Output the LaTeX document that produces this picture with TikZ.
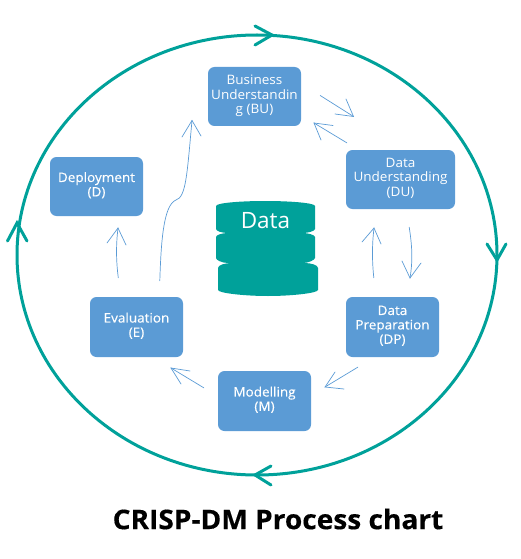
\documentclass[tikz,border=0pt]{standalone}
\usepackage{fontspec}
\setmainfont{Open Sans}
\newfontfamily\lightface[FakeStretch=1.04]{Open Sans}
\newfontfamily\heavyface[FakeBold=0.25,FakeStretch=1.04]{Open Sans}
\newfontfamily\titleface[FakeBold=0.4,FakeStretch=1.04,BoldFont={Open Sans Bold}]{Open Sans Bold}
\definecolor{tealc}{HTML}{00A19A}
\definecolor{bluec}{HTML}{5B9BD5}
\tikzset{
  phase/.style={fill=bluec,rounded corners=6.5pt,text=white,inner sep=0pt,align=center,text depth=4.5pt,font=\fontsize{13}{14.4}\lightface},
  phaseheavy/.style={phase,font=\fontsize{13}{14.4}\heavyface},
  link/.style={draw=bluec,line width=0.7pt,line cap=round},
  ring/.style={draw=tealc,line width=3pt},
  ringhead/.style={draw=tealc,line width=3pt,line cap=round},
  disk/.style={fill=tealc,draw=none}
}
\begin{document}
\begin{tikzpicture}[x=1pt,y=-1pt]
\useasboundingbox (0,0) rectangle (521,559);
% outer cycle
\draw[ring] (257,255) ellipse [x radius=240,y radius=220];
\draw[ringhead] (255,26) -- (272,35) -- (255,45);
\draw[ringhead] (487,244) -- (497,260) -- (506,244);
\draw[ringhead] (271,466) -- (255,475) -- (271,485);
\draw[ringhead] (7.5,241) -- (17,223) -- (27,241);
% phases
\node[phase,minimum width=93pt,minimum height=59pt] (bu) at (254.5,96.5) {Business\\Understandin\\g (BU)};
\node[phase,minimum width=109pt,minimum height=59pt] (du) at (400.5,179.5) {Data\\Understanding\\(DU)};
\node[phaseheavy,minimum width=93pt,minimum height=60pt] (dp) at (392.5,327) {Data\\Preparation\\(DP)};
\node[phaseheavy,minimum width=93pt,minimum height=60pt] (mo) at (264.5,401) {Modelling\\(M)};
\node[phaseheavy,minimum width=93pt,minimum height=60pt] (ev) at (136.5,327) {Evaluation\\(E)};
\node[phaseheavy,minimum width=93pt,minimum height=59pt] (de) at (96.5,186.5) {Deployment\\(D)};
% data store
\fill[disk] (216,206) .. controls (216,203) and (240,201) .. (265,201) .. controls (291,201) and (315,203) .. (315,206)
  -- (315,229) .. controls (315,231) and (308,233) .. (303,233) -- (228,233) .. controls (222,233) and (216,231) .. (216,229) -- cycle;
\fill[disk] (216,237) .. controls (216,235) and (222,233) .. (228,233) -- (303,233) .. controls (308,233) and (315,235) .. (315,237)
  -- (315,258) .. controls (315,260) and (308,263) .. (303,263) -- (228,263) .. controls (222,263) and (216,260) .. (216,258) -- cycle;
\fill[disk] (218,268) .. controls (218,265) and (225,263) .. (232,263) -- (304,263) .. controls (311,263) and (318,265) .. (318,268)
  -- (318,290) .. controls (318,293) and (292,296) .. (268,296) .. controls (244,296) and (218,293) .. (218,290) -- cycle;
\node[text=white,font=\fontsize{22.5}{25}\selectfont,inner sep=0pt] (data) at (265.5,221) {Data};
% links
\coordinate (h1) at (353.5,116.5);
\draw[link] ([shift={(19,-1)}]bu.east) -- (h1);
\draw[link] (346,99) -- (h1) -- (335,114);
\coordinate (h2) at (314,123);
\draw[link] ([shift={(1,-7)}]du.north west) -- (h2);
\draw[link] (333,125.5) -- (h2) -- (321,140);
\coordinate (h3) at (410,278);
\draw[link] ([shift={(-46,18)}]du.south east) .. controls (412,245) and (413,260) .. (h3);
\draw[link] (402,261) -- (h3) -- (421,263);
\coordinate (h4) at (374,228);
\draw[link] ([shift={(28,-19)}]dp.north west) .. controls (372,260) and (372,245) .. (h4);
\draw[link] (362,242) -- (h4) -- (381,244);
\coordinate (h5) at (325,387);
\draw[link] ([shift={(12,10)}]dp.south west) -- (h5);
\draw[link] (335,372) -- (h5) -- (344,389);
\coordinate (h6) at (171,368);
\draw[link] ([shift={(-14,17)}]mo.north west) -- (h6);
\draw[link] (190,371) -- (h6) -- (181,384);
\coordinate (h7) at (118,228);
\draw[link] ([shift={(28.5,-19)}]ev.north west) .. controls (116,260) and (116,245) .. (h7);
\draw[link] (107,243) -- (h7) -- (126,245);
\coordinate (h8) at (192,120.5);
\draw[link] ([shift={(70,-16)}]ev.north west) .. controls (161,245) and (163,205) .. (176,200) .. controls (186,197) and (187,175) .. (h8);
\draw[link] (182,137) -- (h8) -- (201,136);
% title
\node[font=\fontsize{27}{28}\titleface,text=black,inner sep=0pt] (title) at (278,519) {CRISP-DM Process chart};
\end{tikzpicture}
\end{document}
